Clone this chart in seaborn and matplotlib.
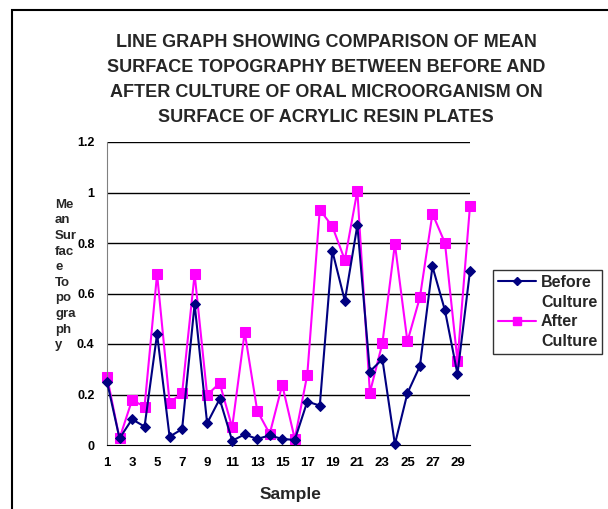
import matplotlib
matplotlib.use("Agg")
import matplotlib.pyplot as plt
import seaborn as sns
import pandas as pd
from matplotlib.patches import Rectangle
from matplotlib.lines import Line2D

samples = list(range(1, 31))
before_culture = [0.251, 0.026, 0.102, 0.073, 0.440, 0.033, 0.063, 0.558, 0.086, 0.182,
                  0.017, 0.042, 0.024, 0.038, 0.024, 0.020, 0.172, 0.156, 0.769, 0.571,
                  0.870, 0.291, 0.340, 0.003, 0.205, 0.313, 0.707, 0.533, 0.281, 0.690]
after_culture = [0.271, 0.026, 0.178, 0.152, 0.677, 0.168, 0.205, 0.677, 0.198, 0.245,
                 0.070, 0.447, 0.136, 0.044, 0.238, 0.024, 0.278, 0.932, 0.866, 0.733,
                 1.007, 0.207, 0.403, 0.796, 0.410, 0.585, 0.916, 0.800, 0.333, 0.948]
y_ticks = [0, 0.2, 0.4, 0.6, 0.8, 1, 1.2]
y_tick_labels = ["0", "0.2", "0.4", "0.6", "0.8", "1", "1.2"]
x_tick_labels = [str(s) if s % 2 == 1 else "" for s in samples]

sns.set_style("white")
plt.rcParams['font.family'] = ['Liberation Sans', 'DejaVu Sans']

fig = plt.figure(figsize=(6.08, 5.09), dpi=100)
ax = fig.add_axes([107/608, 1-445/509, (470-107)/608, (445-142)/509])

df = pd.DataFrame({"Sample": samples, "Before": before_culture, "After": after_culture})
sns.lineplot(data=df, x="Sample", y="Before", ax=ax, color="#000080", marker="D",
             markersize=5.5, markeredgecolor="#000080", linewidth=1.5, zorder=3)
sns.lineplot(data=df, x="Sample", y="After", ax=ax, color="#FF00FF", marker="s",
             markersize=6.5, markeredgecolor="#FF00FF", linewidth=1.5, zorder=2)
for ln in ax.get_lines():
    ln.set_clip_on(False)

ax.set_xlim(1, 30)
ax.set_ylim(0, 1.2)
ax.set_yticks(y_ticks)
ax.set_yticklabels(y_tick_labels, fontsize=9, fontweight="bold")
ax.set_xticks(samples)
ax.set_xticklabels(x_tick_labels, fontsize=9.5, fontweight="bold")
ax.tick_params(axis="both", direction="out", length=4, width=1, colors="black", pad=5)
ax.tick_params(axis="y", color="#808080")
for y in y_ticks[1:]:
    ax.axhline(y, color="black", linewidth=1, zorder=1)
ax.spines["top"].set_visible(False)
ax.spines["right"].set_visible(False)
ax.spines["left"].set_color("#808080")
ax.spines["bottom"].set_color("black")
ax.set_xlabel("")
ax.set_ylabel("")

fig.text(290/608, 1-494/509, "Sample", ha="center", va="center", fontsize=12.5, fontweight="bold")
ylab = "Me\nan\nSur\nfac\ne\nTo\npo\ngra\nph\ny"
fig.text(55/608, 1-275/509, ylab, ha="left", va="center", fontsize=9.5, fontweight="bold",
         linespacing=1.4)

title = ("LINE GRAPH SHOWING COMPARISON OF MEAN\nSURFACE TOPOGRAPHY BETWEEN BEFORE AND\n"
         "AFTER CULTURE OF ORAL MICROORGANISM ON\nSURFACE OF ACRYLIC RESIN PLATES")
fig.text(326/608, 1-80/509, title, ha="center", va="center", fontsize=13, fontweight="bold",
         linespacing=1.6)

empty = Line2D([], [], linestyle="none")
handles = [Line2D([0], [0], color="#000080", marker="D", markersize=4.5, linewidth=1.5),
           empty,
           Line2D([0], [0], color="#FF00FF", marker="s", markersize=5.5, linewidth=1.5),
           empty]
leg = fig.legend(handles, ["Before", "Culture", "After", "Culture"], loc="upper left",
                 bbox_to_anchor=(493/608, 1-270/509), frameon=True, fancybox=False,
                 edgecolor="black", prop={"weight": "bold", "size": 11.5},
                 handlelength=2.4, handletextpad=0.3, borderpad=0.3, labelspacing=0.3,
                 borderaxespad=0)
leg.get_frame().set_linewidth(1)

fig.add_artist(Rectangle((12/608, -0.1), 1.2, 1-10/509 + 0.1, transform=fig.transFigure,
                         fill=False, edgecolor="black", linewidth=1.5, clip_on=False))

fig.savefig("out.png", dpi=100)
